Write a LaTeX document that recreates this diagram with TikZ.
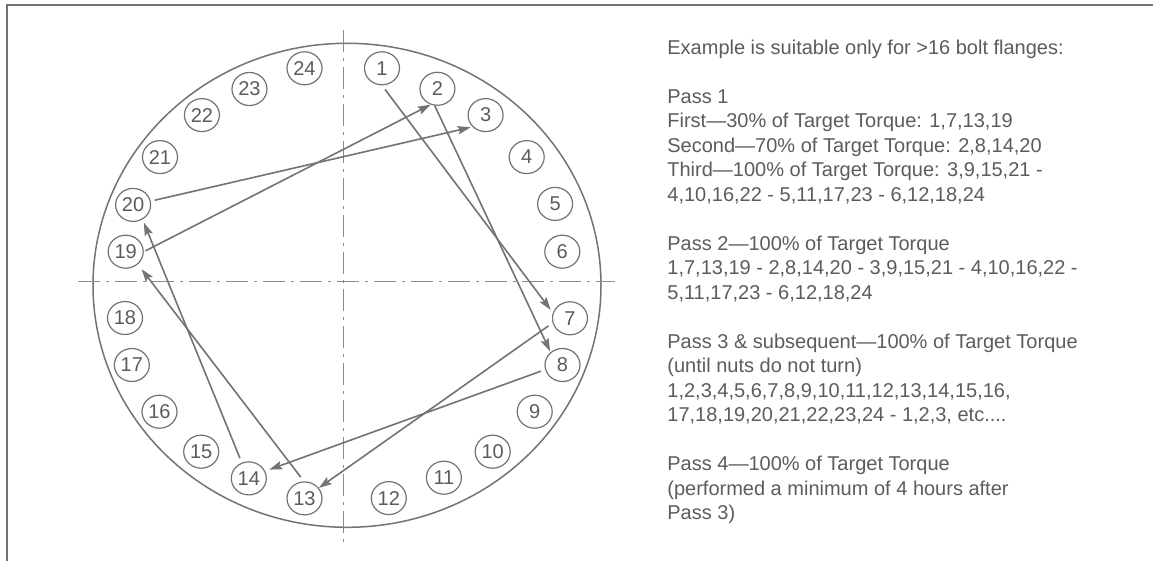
\documentclass[tikz,border=0pt]{standalone}
\usepackage{fontspec}
\setmainfont{Liberation Sans}
\usetikzlibrary{arrows.meta,shapes.geometric}
\definecolor{lc}{gray}{0.45}
\definecolor{tc}{gray}{0.36}
\definecolor{dc}{gray}{0.55}
\begin{document}
\begin{tikzpicture}[x=0.5pt,y=-0.5pt,
  bolt/.style={ellipse,draw=lc,line width=0.6pt,minimum width=17.5pt,minimum height=16.5pt,inner sep=0pt,text=tc,font=\fontsize{10}{12}\selectfont},
  conn/.style={draw=lc,line width=0.8pt,-{Stealth[length=6.5pt,width=4.2pt,inset=1.2pt]}},
  cline/.style={draw=dc,line width=0.6pt,dash pattern=on 11pt off 3pt on 1.5pt off 3pt},
  txt/.style={anchor=base west,inner sep=0pt,text=tc,font=\fontsize{10}{12}\selectfont}]
\useasboundingbox (0,0) rectangle (1153,561);
\fill[white] (0,0) rectangle (1153,561);
% frame
\draw[lc,line width=1.1pt] (7,561) -- (7,5) -- (1153,5);
% flange outline and centre lines
\draw[lc,line width=0.75pt] (347,285.3) ellipse [x radius=127pt, y radius=121pt];
\draw[cline] (343.3,30) -- (343.3,541.7);
\draw[cline] (78,281.7) -- (615,281.7);
% bolts
\node[bolt] (b1)  at (382,68.3)  {1};
\node[bolt] (b2)  at (437.4,88.8) {2};
\node[bolt] (b3)  at (485.6,115.1) {3};
\node[bolt] (b4)  at (526.7,157.1) {4};
\node[bolt] (b5)  at (555.1,203.9) {5};
\node[bolt] (b6)  at (562.3,251.7) {6};
\node[bolt] (b7)  at (570,318.3) {7};
\node[bolt] (b8)  at (562.5,365) {8};
\node[bolt] (b9)  at (534.7,411.7) {9};
\node[bolt] (b10) at (492.7,451.7) {10};
\node[bolt] (b11) at (443.9,477.7) {11};
\node[bolt] (b12) at (388.8,498.1) {12};
\node[bolt] (b13) at (304.5,498.4) {13};
\node[bolt] (b14) at (248.8,478.4) {14};
\node[bolt] (b15) at (201.2,451.7) {15};
\node[bolt] (b16) at (159.5,411.7) {16};
\node[bolt] (b17) at (131.8,365) {17};
\node[bolt] (b18) at (125,318) {18};
\node[bolt] (b19) at (125.7,251.7) {19};
\node[bolt] (b20) at (133.1,204.9) {20};
\node[bolt] (b21) at (160,157.1) {21};
\node[bolt] (b22) at (201.9,115.1) {22};
\node[bolt] (b23) at (249.5,89) {23};
\node[bolt] (b24) at (304.5,68.3) {24};
% tightening sequence
\draw[conn,shorten <=2.5pt,shorten >=1.8pt] (b1.270) -- (b7.162);
\draw[conn,shorten >=0.5pt] (b2.261) -- (b8.133);
\draw[conn,shorten <=2.5pt] (b7.195) -- (b13.36);
\draw[conn,shorten <=2.2pt,shorten >=2.2pt] (b8.195) -- (b14.24);
\draw[conn,shorten <=2.6pt,shorten >=3pt] (b13.92) -- (b19.314);
\draw[conn,shorten <=2.4pt,shorten >=1.7pt] (b14.114) -- (b20.303);
\draw[conn,shorten <=0.9pt] (b19.0) -- (b2.247);
\draw[conn,shorten <=2pt,shorten >=1pt] (b20.12) -- (b3.222);
% notes
\node[txt] (t1)  at (667,54.5)  {Example is suitable only for >16 bolt flanges:};
\node[txt] (t2)  at (667,103.5) {Pass 1};
\node[txt] (t3)  at (667,128)   {First—30\% of Target Torque: 1,7,13,19};
\node[txt] (t4)  at (667,152.5) {Second—70\% of Target Torque: 2,8,14,20};
\node[txt] (t5)  at (667,177)   {Third—100\% of Target Torque: 3,9,15,21 -};
\node[txt] (t6)  at (667,201.5) {4,10,16,22 - 5,11,17,23 - 6,12,18,24};
\node[txt] (t7)  at (667,250.5) {Pass 2—100\% of Target Torque};
\node[txt] (t8)  at (667,275)   {1,7,13,19 - 2,8,14,20 - 3,9,15,21 - 4,10,16,22 -};
\node[txt] (t9)  at (667,299.5) {5,11,17,23 - 6,12,18,24};
\node[txt] (t10) at (667,348.5) {Pass 3 \& subsequent—100\% of Target Torque};
\node[txt] (t11) at (667,373)   {(until nuts do not turn)};
\node[txt] (t12) at (667,397.5) {1,2,3,4,5,6,7,8,9,10,11,12,13,14,15,16,};
\node[txt] (t13) at (667,422)   {17,18,19,20,21,22,23,24 - 1,2,3, etc....};
\node[txt] (t14) at (667,471)   {Pass 4—100\% of Target Torque};
\node[txt] (t15) at (667,495.5) {(performed a minimum of 4 hours after};
\node[txt] (t16) at (667,520)   {Pass 3)};
\end{tikzpicture}
\end{document}
